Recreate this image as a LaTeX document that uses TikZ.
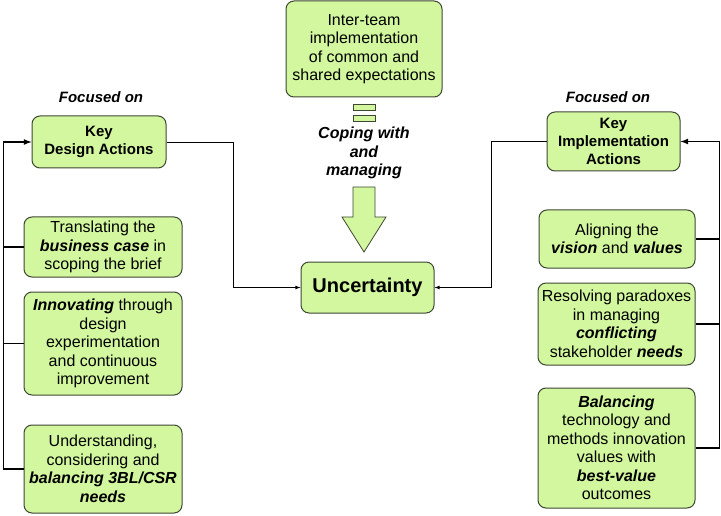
\documentclass[tikz,border=0pt]{standalone}
\usepackage{fontspec}
\setmainfont{Liberation Sans}
\usetikzlibrary{positioning}

\definecolor{boxgreen}{RGB}{210,247,158}
\definecolor{boxline}{RGB}{62,70,52}
\newcommand{\bi}[1]{\textbf{\textit{#1}}}

\tikzset{
  actbox/.style={draw=boxline,fill=boxgreen,line width=1pt,rounded corners=8pt,
    align=center,inner sep=1pt,font=\fontsize{16}{18.5}\selectfont},
  keybox/.style={actbox,font=\fontsize{15}{18}\selectfont\bfseries},
  focus/.style={font=\fontsize{15}{18}\selectfont\bfseries\itshape},
  bus/.style={line width=1.6pt},
  link/.style={line width=0.8pt,-latex}
}

\begin{document}
\begin{tikzpicture}[x=1pt,y=-1pt]
\useasboundingbox (0,0) rectangle (721,516);

% centre column
\node[actbox,minimum width=156,minimum height=96] (team) at (364,49)
  {Inter-team\\implementation\\of common and\\shared expectations};
\draw[draw=boxline,fill=boxgreen,line width=0.8pt] (353,104) rectangle (375,110);
\draw[draw=boxline,fill=boxgreen,line width=0.8pt] (353,115) rectangle (375,121);
\node[align=center,font=\fontsize{16}{18.5}\selectfont\bfseries\itshape] (coping) at (364,153)
  {Coping with\\and\\managing};
\draw[draw=boxline,fill=boxgreen,line width=0.8pt] (353,187) -- (375,187) -- (375,217)
  -- (386,217) -- (364,252) -- (342,217) -- (353,217) -- cycle;
\node[actbox,font=\fontsize{20}{24}\selectfont\bfseries,minimum width=133,minimum height=51] (unc) at (367.5,287.5) {Uncertainty};

% design side
\node[focus] (fl) at (101,97) {Focused on};
\node[keybox,minimum width=134,minimum height=52] (kda) at (99,142) {Key\\Design Actions};
\node[actbox,minimum width=158,minimum height=60] (tra) at (103,247)
  {Translating the\\\bi{business case} in\\scoping the brief};
\node[actbox,minimum width=158,minimum height=103] (inn) at (103,343.5)
  {\bi{Innovating} through\\design\\experimentation\\and continuous\\improvement};
\node[actbox,minimum width=158,minimum height=88] (und) at (103,469)
  {Understanding,\\considering and\\\bi{balancing 3BL/CSR}\\\bi{needs}};

% implementation side
\node[focus] (fr) at (608,97) {Focused on};
\node[keybox,minimum width=133,minimum height=59] (kia) at (613.5,141.5) {Key\\Implementation\\Actions};
\node[actbox,minimum width=156,minimum height=58] (ali) at (617,239)
  {Aligning the\\\bi{vision} and \bi{values}};
\node[actbox,minimum width=157,minimum height=82] (res) at (616.5,324)
  {Resolving paradoxes\\in managing\\\bi{conflicting}\\stakeholder \bi{needs}};
\node[actbox,minimum width=157,minimum height=120] (bal) at (616.5,448)
  {\bi{Balancing}\\technology and\\methods innovation\\values with\\\bi{best-value}\\outcomes};

% left bus
\draw[bus,-latex] (und.west) -- ++(-20,0) |- (kda.west);
\draw[bus] (tra.west) -- ++(-20,0);
\draw[bus] (inn.west) -- ++(-20,0);

% right bus
\draw[bus,-latex] (bal.east) -- ++(24,0) |- (kia.east);
\draw[bus] (ali.east) -- ++(24,0);
\draw[bus] (res.east) -- ++(24,0);

% into uncertainty
\draw[link] (kda.east) -- ++(67,0) |- (unc.west);
\draw[link] (kia.west) -- ++(-55,0) |- (unc.east);
\end{tikzpicture}
\end{document}
